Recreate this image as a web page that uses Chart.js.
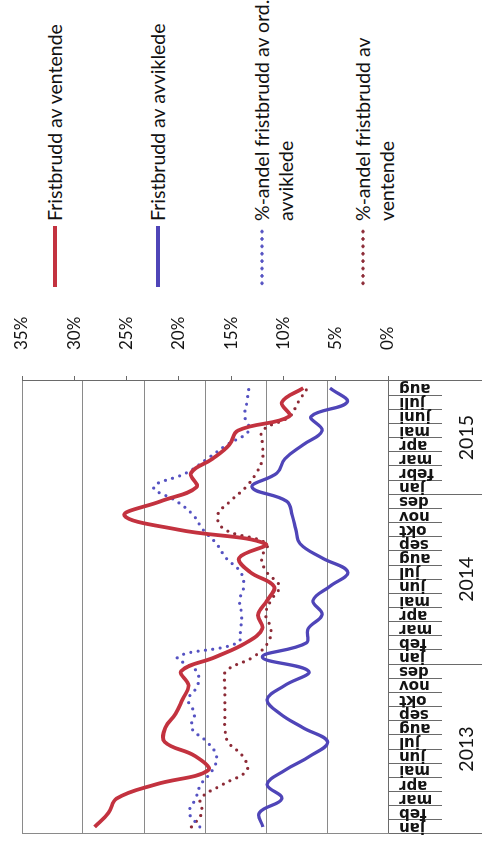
<!DOCTYPE html>
<html>
<head>
<meta charset="utf-8">
<script src="https://cdn.jsdelivr.net/npm/chart.js@4/dist/chart.umd.min.js"></script>
<style>
  html, body { margin: 0; padding: 0; background: #fff; overflow: hidden; width: 482px; height: 842px; }
  /* the figure is laid out landscape and turned a quarter turn counter-clockwise */
  #page { position: absolute; left: 0; top: 0; width: 842px; height: 482px; background: #fff;
          transform-origin: 0 0; transform: translate(0px, 842px) rotate(-90deg); }
  #chart { position: absolute; left: 0; top: 0; }
  #legend { position: absolute; left: 552px; top: 0; width: 290px; height: 482px;
            font-family: Lato, sans-serif; font-size: 19.5px; color: #111; }
  .item { position: absolute; left: 0; display: flex; align-items: flex-start; }
  .swatch { position: relative; flex: none; width: 66px; height: 24px; }
  .swatch .mark { position: absolute; left: 3px; width: 61px; }
  .text { margin-left: 3px; width: 228px; line-height: 24px; }
</style>
</head>
<body>
<div id="page">
  <canvas id="chart" width="552" height="482"></canvas>
  <div id="legend"></div>
</div>
<script>
// Month axis (Jan 2013 - Aug 2015) and the year row underneath it
const monthLabels = [
  'jan','feb','mar','apr','mai','jun','jul','aug','sep','okt','nov','des',
  'jan','feb','mar','apr','mai','jun','jul','aug','sep','okt','nov','des',
  'jan','febr','mar','apr','mai','juni','juli','aug'
];
const yearLabels = ['2013', '2014', '2015'];
const monthsPerYear = [12, 12, 8];

// Number of deadline breaches (left axis, unlabelled)
const ventende = [481,458,445,381,295,316,366,365,348,337,327,339,
                  283,233,206,213,198,187,226,244,201,344,432,373,
                  314,323,288,260,246,162,174,139];
const avviklede = [205,211,174,198,169,128,99,139,177,198,169,130,
                   206,134,131,108,123,95,66,108,144,151,157,166,
                   223,182,169,139,108,126,67,95];

// Share of breaches in percent (right axis)
const pctAvviklede = [18.0,19.0,18.4,17.9,16.8,16.4,17.3,18.8,18.5,19.1,18.2,18.3,
                      20.1,14.4,14.1,14.0,14.2,13.8,14.1,15.5,16.4,17.7,18.6,20.2,
                      22.4,19.3,17.3,15.4,13.3,13.7,13.5,13.3];
const pctVentende = [18.8,17.8,17.9,15.8,13.5,13.9,15.3,15.6,15.6,15.6,15.6,15.5,
                     12.9,11.5,11.2,11.7,11.2,10.4,11.6,12.1,11.6,15.6,16.3,15.1,
                     13.6,12.6,12.0,12.0,12.0,9.4,8.6,7.7];

// Axis ranges
const countRange = { min: 0, max: 600, step: 100 };
const pctRange = { min: 0, max: 35, step: 5 };

// Year boundaries and year centres on the month index scale
const yearEdges = [-0.5];
const yearCentres = [];
monthsPerYear.forEach(n => {
  const start = yearEdges[yearEdges.length - 1];
  yearCentres.push(start + n / 2);
  yearEdges.push(start + n);
});

const GRID = '#8a8a8a';
const AXIS = '#6a6a6a';
const TEXT = '#141414';

Chart.defaults.font.family = 'Lato, sans-serif';
Chart.defaults.color = TEXT;

const legendTops = [43, 146, 250, 351];

const htmlLegend = {
  id: 'htmlLegend',
  afterUpdate(chart) {
    const box = document.getElementById('legend');
    box.innerHTML = '';
    chart.data.datasets.forEach((ds, i) => {
      const item = document.createElement('div');
      item.className = 'item';
      item.style.top = legendTops[i] + 'px';
      const sw = document.createElement('div');
      sw.className = 'swatch';
      const mark = document.createElement('div');
      mark.className = 'mark';
      if (ds.borderDash && ds.borderDash.length) {
        mark.style.top = '10px';
        mark.style.height = '4px';
        mark.style.backgroundImage =
          'radial-gradient(circle, ' + ds.borderColor + ' 1.4px, rgba(255,255,255,0) 1.9px)';
        mark.style.backgroundSize = '7.4px 4px';
        mark.style.backgroundRepeat = 'repeat-x';
      } else {
        mark.style.top = (12 - ds.borderWidth / 2) + 'px';
        mark.style.height = ds.borderWidth + 'px';
        mark.style.background = ds.borderColor;
      }
      sw.appendChild(mark);
      const txt = document.createElement('div');
      txt.className = 'text';
      txt.textContent = ds.label;
      item.appendChild(sw);
      item.appendChild(txt);
      box.appendChild(item);
    });
  }
};

const dotted = { borderDash: [0, 7.4], borderCapStyle: 'round', borderWidth: 3.2 };

new Chart(document.getElementById('chart'), {
  type: 'line',
  data: {
    labels: monthLabels,
    datasets: [
      { label: 'Fristbrudd av ventende', data: ventende, yAxisID: 'y',
        borderColor: '#c3323f', borderWidth: 3.8 },
      { label: 'Fristbrudd av avviklede', data: avviklede, yAxisID: 'y',
        borderColor: '#4f45b8', borderWidth: 3.3 },
      Object.assign({ label: '%-andel fristbrudd av ord. avviklede', data: pctAvviklede,
        yAxisID: 'yPct', borderColor: '#5552c2' }, dotted),
      Object.assign({ label: '%-andel fristbrudd av ventende', data: pctVentende,
        yAxisID: 'yPct', borderColor: '#8c2a36' }, dotted)
    ]
  },
  options: {
    responsive: false,
    animation: false,
    devicePixelRatio: 1,
    layout: { padding: { top: 22, left: 0, right: 0, bottom: 0 } },
    elements: { point: { radius: 0 }, line: { tension: 0.4, fill: false } },
    plugins: { legend: { display: false }, tooltip: { enabled: false } },
    scales: {
      x: {
        type: 'category',
        position: 'bottom',
        weight: 0,
        offset: true,
        grid: { offset: true, drawOnChartArea: false, drawTicks: true, tickLength: 54, color: AXIS },
        border: { display: true, color: AXIS },
        ticks: { autoSkip: false, minRotation: 90, maxRotation: 90, padding: -43,
                 font: { family: 'DejaVu Sans', size: 15, weight: 'bold' }, color: TEXT },
        afterFit(scale) { scale.height = 54; scale.paddingLeft = 0; scale.paddingRight = 0; }
      },
      xYear: {
        type: 'linear',
        position: 'bottom',
        weight: 1,
        min: yearEdges[0],
        max: yearEdges[yearEdges.length - 1],
        afterBuildTicks(scale) {
          scale.ticks = yearEdges.concat(yearCentres).sort((a, b) => a - b).map(v => ({ value: v }));
        },
        grid: {
          drawOnChartArea: false, drawTicks: true, tickLength: 40,
          color(ctx) { return ctx.tick && yearEdges.includes(ctx.tick.value) ? AXIS : 'rgba(0,0,0,0)'; }
        },
        border: { display: false },
        ticks: {
          autoSkip: false, maxRotation: 0, minRotation: 0, padding: -27,
          font: { size: 19.5 }, color: TEXT,
          callback(value) {
            const k = yearCentres.indexOf(value);
            return k >= 0 ? yearLabels[k] : '';
          }
        },
        afterFit(scale) { scale.height = 40; scale.paddingLeft = 0; scale.paddingRight = 0; }
      },
      y: {
        type: 'linear',
        position: 'left',
        min: countRange.min,
        max: countRange.max,
        ticks: { display: false, stepSize: countRange.step },
        grid: { color: GRID, drawTicks: false, lineWidth: 1 },
        border: { display: true, color: GRID },
        afterFit(scale) { scale.width = 8; scale.paddingTop = 0; scale.paddingBottom = 0; }
      },
      yPct: {
        type: 'linear',
        position: 'right',
        min: pctRange.min,
        max: pctRange.max,
        grid: { drawOnChartArea: false, drawTicks: true, tickLength: 5, color: AXIS },
        border: { display: true, color: AXIS },
        ticks: { stepSize: pctRange.step, padding: 26, font: { size: 17 }, color: TEXT,
                 callback: v => v + '%' },
        afterFit(scale) { scale.width = 91; scale.paddingTop = 0; scale.paddingBottom = 0; }
      }
    }
  },
  plugins: [htmlLegend]
});
</script>
</body>
</html>
